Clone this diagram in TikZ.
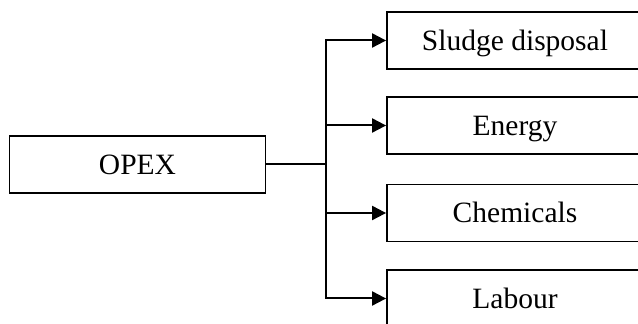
\documentclass[tikz,border=0pt]{standalone}
\usepackage{fontspec}
\setmainfont{Liberation Serif}
\usepackage{tikz}
\usetikzlibrary{arrows.meta,positioning}

\begin{document}
\begin{tikzpicture}[
    x=1pt, y=1pt,
    every node/.style = {draw, line width=1.8pt, minimum width=256pt, minimum height=57pt,
      inner sep=0pt, text height=20pt, text depth=0pt,
      font=\fontsize{29.5}{34}\selectfont},
    link/.style = {line width=2pt},
    >={Triangle[length=14pt,width=14pt]}
  ]
  \useasboundingbox (0,0) rectangle (638,324);
  \clip (0,0) rectangle (638,324);
  % cost item
  \node (opex) at (137.5,159.5) {OPEX};
  % cost components
  \node (sludge) at (515,283.5) {Sludge disposal};
  \node (energy) at (515,198.5) {Energy};
  \node (chem)   at (515,111)   {Chemicals};
  \node (labour) at (515,25.5)  {Labour};
  % connectors
  \coordinate (split) at (326,159.5);
  \draw[link] (opex) -- (split);
  \draw[link,->] (split) |- (sludge);
  \draw[link,->] (split) |- (energy);
  \draw[link,->] (split) |- (chem);
  \draw[link,->] (split) |- (labour);
\end{tikzpicture}
\end{document}
